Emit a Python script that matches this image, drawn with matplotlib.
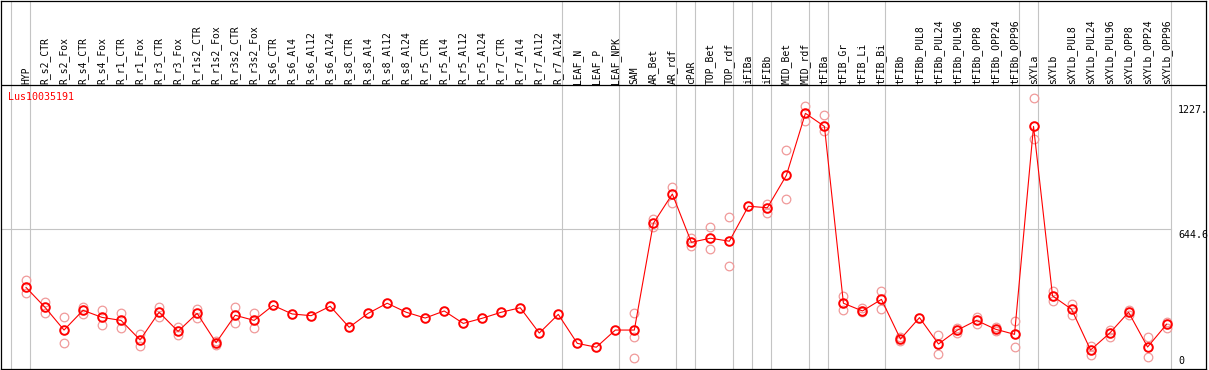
import numpy as np
import matplotlib
matplotlib.use('Agg')
import matplotlib.pyplot as plt

gene = 'Lus10035191'

samples = ['HYP',
           'R_s2_CTR', 'R_s2_Fox', 'R_s4_CTR', 'R_s4_Fox', 'R_r1_CTR', 'R_r1_Fox',
           'R_r3_CTR', 'R_r3_Fox', 'R_r1s2_CTR', 'R_r1s2_Fox', 'R_r3s2_CTR', 'R_r3s2_Fox',
           'R_s6_CTR', 'R_s6_Al4', 'R_s6_Al12', 'R_s6_Al24', 'R_s8_CTR', 'R_s8_Al4',
           'R_s8_Al12', 'R_s8_Al24', 'R_r5_CTR', 'R_r5_Al4', 'R_r5_Al12', 'R_r5_Al24',
           'R_r7_CTR', 'R_r7_Al4', 'R_r7_Al12', 'R_r7_Al24',
           'LEAF_N', 'LEAF_P', 'LEAF_NPK',
           'SAM', 'AR_Bet', 'AR_rdf',
           'cPAR',
           'TOP_Bet', 'TOP_rdf',
           'iFIBa',
           'iFIBb',
           'MID_Bet', 'MID_rdf',
           'tFIBa',
           'tFIB_Gr', 'tFIB_Li', 'tFIB_Bi',
           'tFIBb', 'tFIBb_PUL8', 'tFIBb_PUL24', 'tFIBb_PUL96', 'tFIBb_OPP8',
           'tFIBb_OPP24', 'tFIBb_OPP96',
           'sXYLa',
           'sXYLb', 'sXYLb_PUL8', 'sXYLb_PUL24', 'sXYLb_PUL96', 'sXYLb_OPP8',
           'sXYLb_OPP24', 'sXYLb_OPP96']

# number of samples in each group (separated by grey lines)
group_sizes = [1, 28, 3, 3, 1, 2, 1, 1, 2, 1, 3, 7, 1, 7]

means = [373,
         280, 174, 266, 233, 219, 128, 257, 168, 252, 115, 243, 219,
         289, 249, 241, 285, 187, 252, 299, 257, 230, 263, 205, 229,
         257, 278, 160, 247,
         112, 94, 174,
         174, 671, 808,
         583,
         602, 588,
         751,
         744,
         895, 1184,
         1123,
         299, 263, 317,
         132, 232, 109, 174, 219, 178, 154,
         1123,
         333, 271, 81, 159, 257, 95, 201]

replicates = [[407, 348],
              [303, 252], [233, 112], [281, 249], [266, 196], [253, 185], [156, 101],
              [280, 236], [190, 152], [274, 229], [124, 106], [283, 208], [253, 185],
              [], [], [], [], [], [], [], [], [], [], [], [],
              [], [], [], [],
              [], [], [],
              [252, 140, 42], [693, 653], [839, 767],
              [604, 567],
              [654, 550], [699, 471],
              [],
              [761, 721],
              [1012, 785], [1218, 1150],
              [1175, 1100],
              [333, 267], [278, 257], [355, 274],
              [140, 124], [], [152, 61], [182, 159], [236, 204], [188, 171], [215, 94],
              [1254, 1063],
              [357, 308], [295, 246], [101, 58], [174, 140], [267, 244], [140, 48], [213, 182]]

y_ticks = [0, 644.6, 1227]
y_tick_labels = ['0', '644.6', '1227.']

W, H = 1209, 370
fig = plt.figure(figsize=(W / 100, H / 100), dpi=100)

# pixel helpers (layout only)
x0, dx = 26.0, 19.01          # pixel x of first sample, spacing
y0, dy = 367.4, 0.2146        # pixel y of value 0, px per unit
left_px, right_px = 1, 1206
top_px, bot_px = 0.5, 369
ax = fig.add_axes([left_px / W, (H - bot_px) / H, (right_px - left_px) / W, (bot_px - top_px) / H])
ax.set_xlim((left_px - x0) / dx, (right_px - x0) / dx)
ax.set_ylim((y0 - bot_px) / dy, (y0 - top_px) / dy)
for s in ax.spines.values():
    s.set_linewidth(0.9)
    s.set_color('black')
ax.set_xticks([])
ax.set_yticks([])

mono = 'DejaVu Sans Mono'
grey = '#c4c4c4'

# header separator
head_val = (y0 - 85) / dy
ax.axhline(head_val, color='black', lw=0.9, zorder=3)

# group separator lines
ends = np.cumsum(group_sizes) - 1
for e in [-1] + list(ends):
    ax.axvline(e + 0.21, color=grey, lw=0.8, zorder=0)

# horizontal grid line at mid value
ax.plot([ax.get_xlim()[0], (1170.7 - x0) / dx], [644.6, 644.6], color=grey, lw=0.8, zorder=0)

xs = np.arange(len(samples))

# replicate points
rx, ry = [], []
for i, reps in enumerate(replicates):
    for r in reps:
        rx.append(i)
        ry.append(r)
ax.plot(rx, ry, 'o', ms=6.2, mfc='none', mec='#f09a9a', mew=0.9, ls='none', zorder=2)

# mean line + markers
ax.plot(xs, means, '-', color='red', lw=0.8, zorder=3)
ax.plot(xs, means, 'o', ms=6.2, mfc='none', mec='red', mew=1.4, ls='none', zorder=4)

# sample labels in header
lab_val = (y0 - 83.5) / dy
for i, s in enumerate(samples):
    ax.text(i, lab_val, s, rotation=90, ha='center', va='bottom',
            fontsize=7, family=mono, color='black')

# gene name
ax.text((8 - x0) / dx, (y0 - 97) / dy, gene, color='red', fontsize=7.2,
        family=mono, ha='left', va='center')

# y tick labels on the right
lx = (1178 - x0) / dx
for v, t in zip(y_ticks, y_tick_labels):
    if v == 0:
        ax.text(lx, (y0 - 361) / dy, t, fontsize=7.2, family=mono, ha='left',
                va='center', color='black')
    else:
        ax.text(lx, v - 1 / dy, t, fontsize=7.2, family=mono, ha='left',
                va='top', color='black')

fig.savefig('out.png', dpi=100)
